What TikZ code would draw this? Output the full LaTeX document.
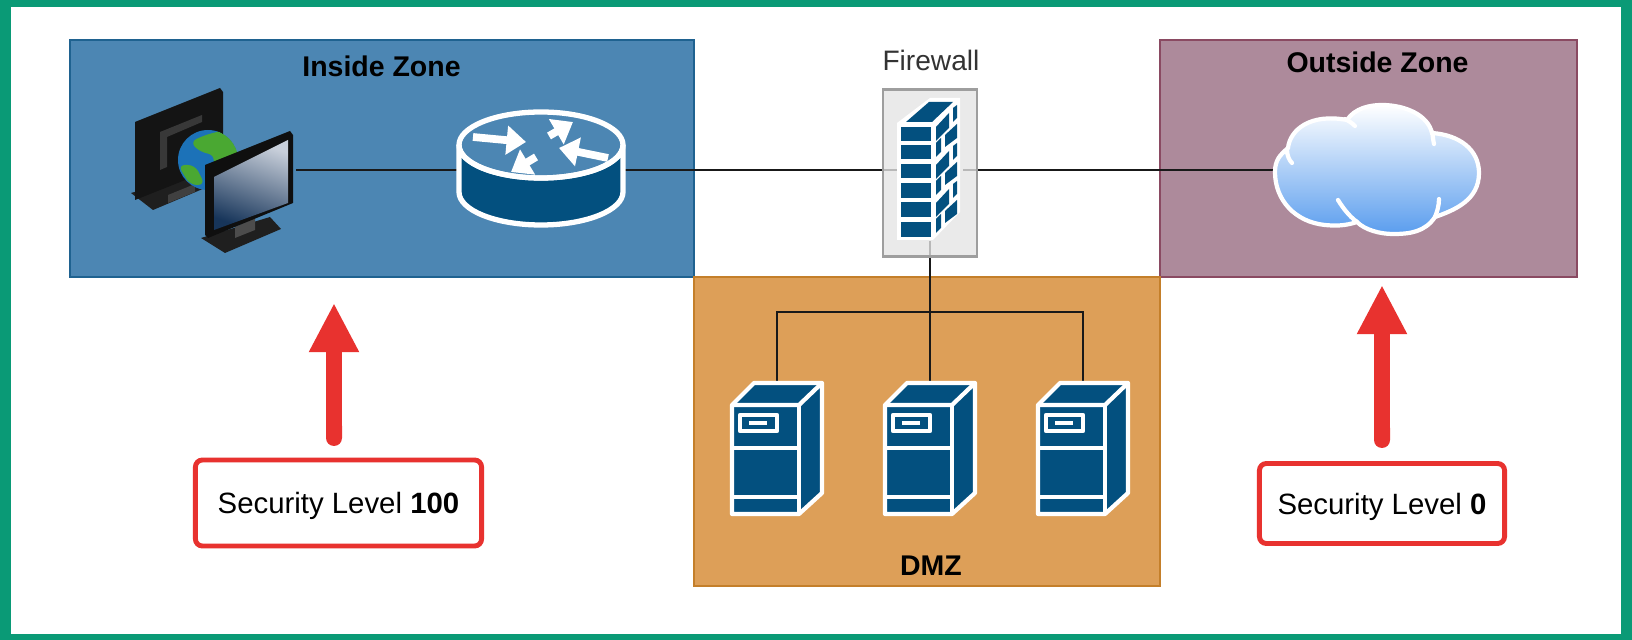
\documentclass[tikz,border=0pt]{standalone}
\usepackage{fontspec}
\setmainfont{Liberation Sans}
\usetikzlibrary{arrows.meta}
\definecolor{framegreen}{HTML}{0A9A76}
\definecolor{iconblue}{HTML}{03507F}
\definecolor{insidefill}{HTML}{4C86B3}
\definecolor{insideline}{HTML}{1F6290}
\definecolor{outsidefill}{HTML}{AD8A9B}
\definecolor{outsideline}{HTML}{8A4A62}
\definecolor{dmzfill}{HTML}{DD9F58}
\definecolor{dmzline}{HTML}{C47F2A}
\definecolor{lvlred}{HTML}{E8322F}
\definecolor{cloudblue}{HTML}{5A9DEE}
\definecolor{screenlight}{HTML}{C8CFDA}
\definecolor{screendark}{HTML}{17355A}
\definecolor{globeblue}{HTML}{1C72B8}
\definecolor{globegreen}{HTML}{4AA832}
\tikzset{
	zonebox/.style={draw,line width=0.6pt,inner sep=0pt},
	zonetitle/.style={font=\fontsize{8.1}{10}\selectfont\bfseries,inner sep=0pt},
	lvlbox/.style={draw=lvlred,line width=1.4pt,fill=white,rounded corners=2pt,inner sep=0pt,text height=7pt,text depth=1pt,font=\fontsize{8.35}{10}\selectfont},
	lvlarrow/.style={draw=lvlred,line width=4.55pt,{Round Cap[]}-{Triangle[length=14pt,width=13.3pt]}},
	iconslot/.style={inner sep=0pt,outer sep=0pt},
	link/.style={draw=black!90,line width=0.65pt},
	whiteline/.style={draw=white,line width=1.2pt,line join=round},
	routerarrow/.style={draw=white,line width=2.2pt,-{Triangle[length=5.5pt,width=8pt]}},
	pics/serverbox/.style={code={
		\path[whiteline,fill=iconblue] (0,0) -- (22,-22) -- (90,-22) -- (90,88) -- (67,109) -- (0,109) -- cycle;
		\draw[whiteline] (0,0) -- (67,0) -- (90,-22);
		\draw[whiteline] (67,0) -- (67,109);
		\draw[whiteline] (0,43) -- (67,43);
		\draw[whiteline] (0,92) -- (67,92);
		\draw[whiteline] (8,10) rectangle (45,26);
		\fill[white] (17,16) rectangle (35,20);
	}},
	pics/routericon/.style={code={
		\path[draw=white,line width=1.5pt,fill=iconblue] (-82,0) -- (-82,47) arc[start angle=180,end angle=0,x radius=82,y radius=33] -- (82,0) arc[start angle=0,end angle=180,x radius=82,y radius=33] -- cycle;
		\draw[draw=white,line width=1.5pt] (0,0) ellipse [x radius=82,y radius=33];
		\draw[routerarrow] (-68,-8) -- (-15,-3);
		\draw[routerarrow] (8,-9) -- (32,-23);
		\draw[routerarrow] (67,13) -- (18,3);
		\draw[routerarrow] (-5,12) -- (-30,27);
	}},
}
\begin{document}
\begin{tikzpicture}[x=0.01cm,y=-0.01cm]
	\useasboundingbox (0,0) rectangle (1632,640);
	\fill[framegreen] (0,0) rectangle (1632,640);
	\fill[white] (11,7) rectangle (1621,634);

	\node[zonebox,draw=insideline,fill=insidefill,minimum width=6.24cm,minimum height=2.37cm] (inside)at(382,158.5) {};
	\node[zonebox,draw=outsideline,fill=outsidefill,minimum width=4.17cm,minimum height=2.37cm] (outside)at(1368.5,158.5) {};
	\node[zonebox,draw=dmzline,fill=dmzfill,minimum width=4.66cm,minimum height=3.09cm] (dmz)at(927,431.5) {};
	\node[zonetitle] (insidetitle)at(381.5,66) {Inside Zone};
	\node[zonetitle] (outsidetitle)at(1377.5,62) {Outside Zone};
	\node[zonetitle] (dmztitle)at(931,566) {DMZ};
	\node[inner sep=0pt,text=black!80,font=\fontsize{8}{10}\selectfont] (fwtitle)at(931,60) {Firewall};

	\node[iconslot,minimum width=1.65cm,minimum height=1.65cm] (pc)at(213.5,170) {};
	\node[iconslot,minimum width=1.65cm,minimum height=1.13cm] (router)at(541,170) {};
	\node[iconslot,minimum width=0.66cm,minimum height=1.42cm] (wall)at(930,170) {};
	\node[iconslot,minimum width=2.04cm,minimum height=1.3cm] (cloud)at(1377,170) {};
	\node[iconslot,minimum width=0.9cm,minimum height=1.31cm] (srva)at(777,448.5) {};
	\node[iconslot,minimum width=0.9cm,minimum height=1.31cm] (srvb)at(930,448.5) {};
	\node[iconslot,minimum width=0.9cm,minimum height=1.31cm] (srvc)at(1083,448.5) {};
	\coordinate (bus)at(930,312);

	\draw[link] (pc) -- (router);
	\draw[link] (router) -- (wall);
	\draw[link] (wall) -- (cloud);
	\draw[link] (wall.south) -- (bus);
	\draw[link] (srva.north) |- (bus);
	\draw[link] (srvb.north) -- (bus);
	\draw[link] (srvc.north) |- (bus);

	\node[draw=black!38,line width=0.7pt,fill=black!10,fill opacity=0.78,minimum width=0.94cm,minimum height=1.67cm,inner sep=0pt] (fwbox)at(930,173) {};

	\fill[white] (897,123) -- (930,98) -- (960,98) -- (960,212) -- (933,240) -- (897,240) -- cycle;
	\fill[iconblue] (906,122) -- (929,102) -- (953,102) -- (932,122) -- cycle;
	\foreach \ytop/\ybot in {127/141,145/159,164/178,183/198,202/217,222/237}
		\fill[iconblue] (901,\ytop) rectangle (931,\ybot);
	\foreach \dy in {0,38,76}{
		\fill[iconblue,yshift=-\dy*0.01cm] (936,127) -- (949,113) -- (949,128) -- (936,141) -- cycle;
		\fill[iconblue,yshift=-\dy*0.01cm] (953,108) -- (957,105) -- (957,118) -- (953,122) -- cycle;
		\fill[iconblue,yshift=-\dy*0.01cm] (945,135) -- (957,124) -- (957,138) -- (945,147) -- cycle;
		\fill[iconblue,yshift=-\dy*0.01cm] (936,143) -- (941,138) -- (941,152) -- (936,157) -- cycle;
	}

	\pic at (541,145) {routericon};
	\pic at (732,405) {serverbox};
	\pic at (885,405) {serverbox};
	\pic at (1038,405) {serverbox};

	\fill[black!88] (131,193) -- (153,210) -- (205,188) -- (205,172) -- cycle;
	\fill[black!92] (135,122) -- (220,88) -- (223,92) -- (223,165) -- (135,200) -- cycle;
	\fill[black!78] (160,170) -- (160,132) -- (202,115) -- (202,122) -- (167,137) -- (167,167) -- cycle;
	\fill[black!75] (168,195) -- (195,184) -- (195,192) -- (168,203) -- cycle;
	\begin{scope}
		\clip (208,160) circle [radius=30];
		\fill[globeblue] (208,160) circle [radius=30];
		\fill[globegreen,rounded corners=2pt] (190,142) -- (205,135) -- (225,130) -- (240,150) -- (222,170) -- (212,172) -- (215,155) -- (200,152) -- cycle;
		\fill[globegreen,rounded corners=2pt] (178,165) -- (195,165) -- (205,185) -- (190,185) -- cycle;
	\end{scope}
	\fill[black!88] (201,238) -- (225,253) -- (281,229) -- (270,217) -- cycle;
	\fill[black!70] (235,227) -- (255,218) -- (255,230) -- (235,238) -- cycle;
	\fill[black!94] (205,165) -- (290,131) -- (293,135) -- (293,203) -- (208,238) -- (205,235) -- cycle;
	\shade[left color=screenlight,right color=screendark,shading angle=-20] (214,177) -- (288,140) -- (288,203) -- (214,230) -- cycle;

	\path[draw=white,line width=1.2pt,top color=white,bottom color=cloudblue] (1275,172) .. controls (1275,160) and (1280,155) .. (1288,148)
		.. controls (1290,130) and (1310,113) .. (1347,120)
		.. controls (1355,108) and (1370,105) .. (1382,105)
		.. controls (1405,105) and (1428,115) .. (1432,133)
		.. controls (1460,135) and (1479,150) .. (1479,173)
		.. controls (1479,200) and (1455,210) .. (1435,217)
		.. controls (1425,232) and (1410,234) .. (1393,234)
		.. controls (1380,234) and (1365,230) .. (1357,222)
		.. controls (1345,226) and (1335,226) .. (1325,225)
		.. controls (1295,222) and (1275,200) .. (1275,172) -- cycle;
	\draw[white,line width=1.2pt,line cap=round] (1287,150) .. controls (1287,155) and (1289,160) .. (1292,163);
	\draw[white,line width=1.2pt,line cap=round] (1345,119) .. controls (1349,121) and (1352,123) .. (1355,126);
	\draw[white,line width=1.2pt,line cap=round] (1432,132) .. controls (1433,136) and (1433,140) .. (1434,144);
	\draw[white,line width=1.2pt,line cap=round] (1439,199) .. controls (1439,206) and (1437,212) .. (1435,217);
	\draw[white,line width=1.2pt,line cap=round] (1338,200) .. controls (1343,208) and (1349,216) .. (1357,222);

	\node[lvlbox,minimum width=2.86cm,minimum height=0.86cm] (lvlin)at(338.5,503) {Security Level \textbf{100}};
	\node[lvlbox,minimum width=2.45cm,minimum height=0.8cm] (lvlout)at(1382,503.5) {Security Level \textbf{0}};
	\coordinate (tipin)at(334,303);
	\coordinate (tipout)at(1382,285);
	\coordinate (tailin)at(334,446);
	\coordinate (tailout)at(1382,448);
	\draw[lvlarrow] (tailin) -- (tipin);
	\draw[lvlarrow] (tailout) -- (tipout);
\end{tikzpicture}
\end{document}
